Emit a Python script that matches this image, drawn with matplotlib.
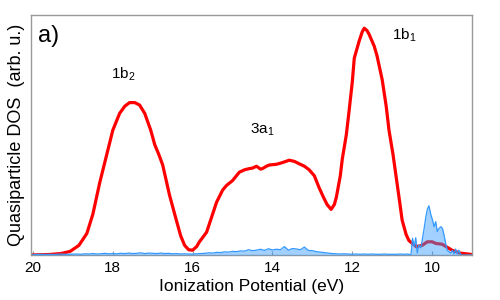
import matplotlib
matplotlib.use("Agg")
import matplotlib.pyplot as plt

plt.rcParams['font.family'] = ['Liberation Sans', 'DejaVu Sans']
plt.rcParams['mathtext.fontset'] = 'custom'
plt.rcParams['mathtext.rm'] = 'Liberation Sans'
plt.rcParams['mathtext.it'] = 'Liberation Sans'

# quasiparticle DOS (red, smoothed)
red_E = [20.05, 19.6, 19.3, 19.07, 18.85, 18.65, 18.5, 18.33, 18.15, 18.0,
         17.83, 17.7, 17.58, 17.45, 17.33, 17.2, 17.05, 16.95, 16.85, 16.75,
         16.58, 16.4, 16.3, 16.2, 16.1, 16.0, 15.9, 15.83, 15.65, 15.5,
         15.4, 15.25, 15.15, 15.0, 14.83, 14.7, 14.58, 14.5, 14.4, 14.3,
         14.25, 14.15, 14.08, 13.9, 13.75, 13.58, 13.45, 13.33, 13.2, 13.08,
         12.95, 12.83, 12.72, 12.63, 12.53, 12.45, 12.4, 12.3, 12.25, 12.15,
         12.08, 12.0, 11.95, 11.83, 11.75, 11.7, 11.63, 11.58, 11.45, 11.38,
         11.25, 11.15, 11.08, 10.98, 10.9, 10.82, 10.75, 10.65, 10.58, 10.4,
         10.25, 10.12, 10.0, 9.9, 9.75, 9.6, 9.5, 9.3, 9.0]
red_dos = [0.0, 0.002, 0.006, 0.015, 0.04, 0.09, 0.17, 0.30, 0.42, 0.52,
           0.59, 0.62, 0.635, 0.635, 0.625, 0.59, 0.52, 0.46, 0.42, 0.375,
           0.25, 0.14, 0.08, 0.04, 0.022, 0.02, 0.035, 0.055, 0.095, 0.17,
           0.22, 0.27, 0.29, 0.31, 0.345, 0.355, 0.36, 0.362, 0.37, 0.358,
           0.36, 0.37, 0.375, 0.378, 0.385, 0.395, 0.39, 0.38, 0.37, 0.355,
           0.33, 0.28, 0.24, 0.21, 0.19, 0.21, 0.24, 0.33, 0.40, 0.50,
           0.60, 0.72, 0.82, 0.89, 0.93, 0.945, 0.935, 0.92, 0.87, 0.83,
           0.73, 0.62, 0.52, 0.42, 0.325, 0.23, 0.145, 0.085, 0.06, 0.035,
           0.04, 0.055, 0.055, 0.048, 0.045, 0.03, 0.02, 0.008, 0.002]

# raw DOS (blue, noisy)
blue_E = [20.0, 19.9, 19.8, 19.7, 19.6, 19.5, 19.4, 19.3, 19.2, 19.1,
          19.0, 18.9, 18.8, 18.7, 18.6, 18.5, 18.4, 18.3, 18.2, 18.1,
          18.0, 17.9, 17.8, 17.7, 17.6, 17.5, 17.4, 17.3, 17.2, 17.1,
          17.0, 16.9, 16.8, 16.7, 16.6, 16.5, 16.4, 16.3, 16.2, 16.1,
          16.0, 15.9, 15.8, 15.7, 15.6, 15.5, 15.4, 15.3, 15.2, 15.1,
          15.0, 14.9, 14.8, 14.7, 14.6, 14.5, 14.4, 14.3, 14.2, 14.1,
          14.0, 13.9, 13.8, 13.7, 13.6, 13.5, 13.4, 13.3, 13.2, 13.1,
          13.0, 12.9, 12.8, 12.7, 12.6, 12.5, 12.4, 12.3, 12.2, 12.1,
          12.0, 11.9, 11.8, 11.7, 11.6, 11.5, 11.4, 11.3, 11.2, 11.1,
          11.0, 10.9, 10.8, 10.7, 10.6, 10.53, 10.49, 10.45, 10.41, 10.37,
          10.33, 10.28, 10.24, 10.2, 10.16, 10.12, 10.08, 10.03, 9.99, 9.95,
          9.91, 9.87, 9.83, 9.78, 9.74, 9.7, 9.66, 9.62, 9.58, 9.53,
          9.49, 9.45, 9.41, 9.37, 9.33, 9.28, 9.0]
blue_dos = [0.002, 0.002, 0.003, 0.002, 0.003, 0.002, 0.003, 0.004, 0.003, 0.003,
            0.004, 0.004, 0.003, 0.005, 0.004, 0.006, 0.004, 0.005, 0.007, 0.005,
            0.006, 0.005, 0.007, 0.006, 0.008, 0.006, 0.007, 0.009, 0.006, 0.008,
            0.007, 0.006, 0.008, 0.006, 0.007, 0.005, 0.006, 0.004, 0.005, 0.004,
            0.004, 0.005, 0.006, 0.007, 0.009, 0.008, 0.011, 0.010, 0.013, 0.012,
            0.015, 0.014, 0.017, 0.016, 0.022, 0.018, 0.020, 0.024, 0.019, 0.026,
            0.021, 0.024, 0.022, 0.035, 0.020, 0.027, 0.025, 0.022, 0.033, 0.019,
            0.018, 0.014, 0.012, 0.010, 0.008, 0.006, 0.005, 0.004, 0.005, 0.004,
            0.003, 0.004, 0.003, 0.004, 0.003, 0.004, 0.003, 0.003, 0.004, 0.003,
            0.003, 0.003, 0.004, 0.003, 0.004, 0.0, 0.07, 0.035, 0.072, 0.008,
            0.042, 0.03, 0.07, 0.11, 0.155, 0.19, 0.205, 0.167, 0.146, 0.118,
            0.139, 0.097, 0.11, 0.118, 0.11, 0.083, 0.049, 0.02, 0.014, 0.008,
            0.02, 0.004, 0.025, 0.004, 0.02, 0.0, 0.0]

peak_labels = ['1b$_2$', '3a$_1$', '1b$_1$']
peak_E = [17.73, 14.25, 10.7]
peak_y = [0.755, 0.52, 0.915]

fig = plt.figure(figsize=(5, 3), dpi=100)
ax = fig.add_axes([0.062, 0.15, 0.882, 0.80])

ax.plot(red_E, red_dos, color='#ff0000', lw=2.3, zorder=2)
ax.fill_between(blue_E, 0, blue_dos, color='#3399ff', alpha=0.45, lw=0, zorder=3)
ax.plot(blue_E, blue_dos, color='#3399ff', lw=0.9, zorder=4)

for lab, e, v in zip(peak_labels, peak_E, peak_y):
    ax.text(e, v, lab, fontsize=11, ha='center', va='center')
ax.text(0.015, 0.96, 'a)', transform=ax.transAxes, fontsize=17, va='top', ha='left')

ax.set_xlim(20.05, 9.0)
ax.set_ylim(0, 1.0)
ax.set_xticks([20, 18, 16, 14, 12, 10])
ax.set_yticks([])
ax.tick_params(axis='x', direction='in', length=3, color='#999999', labelsize=11, pad=4)
for s in ax.spines.values():
    s.set_color('#999999')
    s.set_linewidth(1.0)

ax.set_xlabel('Ionization Potential (eV)', fontsize=12.5, labelpad=3)
ax.set_ylabel('Quasiparticle DOS  (arb. u.)', fontsize=13, labelpad=4)

fig.savefig('out.png', dpi=100)
